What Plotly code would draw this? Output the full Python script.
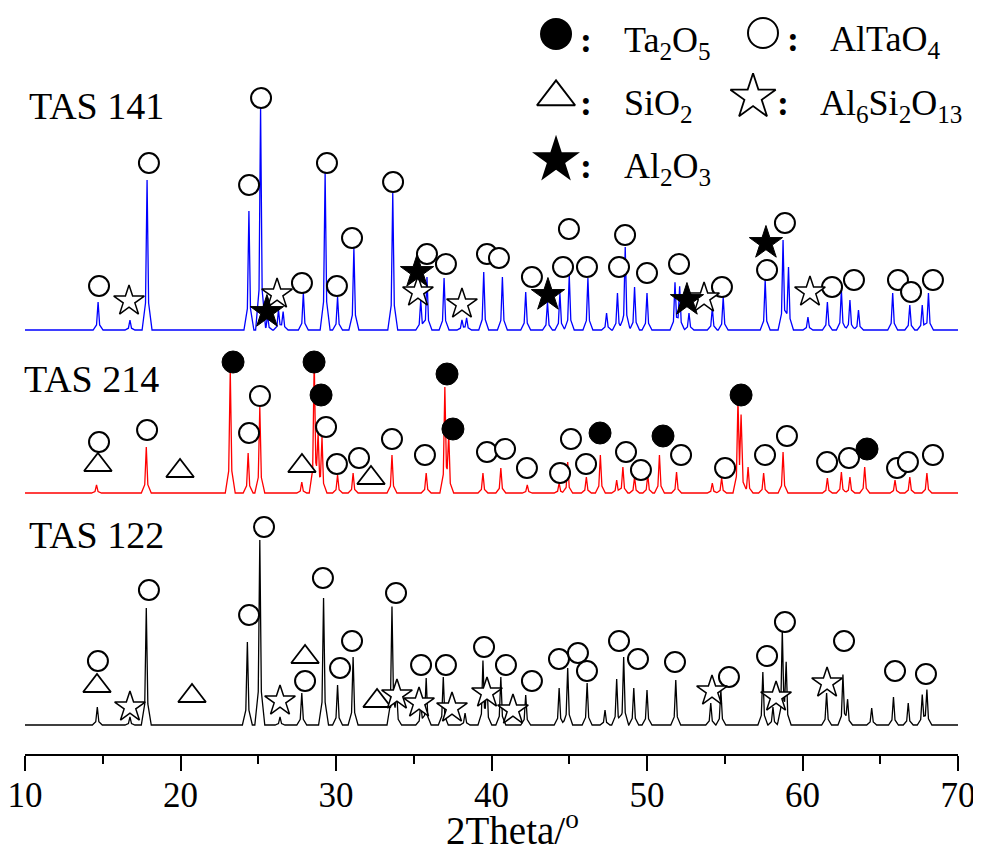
import plotly.graph_objects as go

# ---------------- data (2Theta in degrees, intensity in a.u.) ----------------
# TAS 141 (blue)
tas141_pos = [14.7, 16.75, 17.85, 24.4, 25.15, 25.6, 26.3, 26.6, 27.9, 29.3,
              30.1, 31.15, 33.65, 35.45, 35.85, 36.95, 38.1, 38.4, 39.5, 40.7,
              42.2, 43.6, 44.4, 45.0, 46.2, 47.4, 48.1, 48.6, 49.2, 50.0,
              51.8, 52.1, 52.7, 54.2, 54.9, 57.6, 58.75, 59.1, 60.35, 61.6,
              62.5, 63.05, 63.6, 65.8, 66.9, 67.7, 68.1]
tas141_int = [28, 10, 150, 119, 223, 15, 20, 18, 37, 157,
              33, 82, 137, 30, 53, 52, 10, 12, 58, 53,
              38, 28, 37, 55, 52, 17, 37, 83, 43, 37,
              47, 43, 17, 22, 33, 50, 90, 63, 13, 28,
              40, 30, 20, 37, 25, 25, 37]
tas141_offset = 425

# TAS 214 (red)
tas214_pos = [14.6, 17.8, 23.2, 24.35, 25.1, 27.8, 28.6, 28.85, 29.1, 30.1,
              31.1, 33.6, 35.8, 37.0, 37.25, 39.45, 40.6, 42.3, 44.35, 44.9,
              46.1, 47.0, 48.05, 48.45, 49.2, 50.05, 50.8, 51.9, 54.2, 54.8,
              55.85, 56.05, 56.5, 57.5, 58.75, 61.6, 62.5, 63.05, 64.0, 65.95,
              66.9, 68.0]
tas214_int = [8, 46, 123, 40, 86, 11, 130, 50, 53, 18,
              20, 38, 20, 103, 53, 20, 25, 8, 10, 31,
              16, 38, 13, 26, 16, 18, 38, 21, 10, 15,
              86, 70, 26, 20, 41, 15, 21, 16, 26, 13,
              16, 20]
tas214_offset = 262

# TAS 122 (black)
tas122_pos = [14.65, 16.75, 17.8, 24.3, 25.1, 26.4, 27.8, 29.2, 30.1, 31.1,
              33.6, 33.9, 35.45, 35.8, 36.9, 38.3, 39.45, 39.7, 40.6, 42.2,
              44.35, 44.9, 46.15, 47.3, 48.05, 48.5, 49.15, 50.0, 51.85, 54.1,
              54.75, 57.45, 58.1, 58.7, 58.95, 61.55, 62.6, 62.9, 64.45, 65.85,
              66.8, 67.7, 68.0]
tas122_int = [18, 8, 117, 83, 185, 8, 32, 127, 40, 68,
              118, 32, 22, 47, 48, 12, 62, 43, 48, 30,
              37, 57, 42, 15, 46, 68, 37, 35, 45, 22,
              35, 53, 18, 92, 58, 32, 50, 25, 17, 28,
              22, 30, 35]
tas122_offset = 30

# phase identification marks (2Theta, level)
m141_altao4_x = [14.76, 17.97, 24.41, 25.18, 27.81, 29.42, 30.06, 31.03, 33.67, 35.85,
                 37.07, 39.71, 40.48, 42.60, 44.60, 44.98, 46.14, 48.20, 48.59, 50.0,
                 52.06, 54.82, 57.72, 58.87, 61.90, 63.31, 66.14, 66.98, 68.39]
m141_altao4_y = [469, 592, 570, 657, 472, 592, 469, 517, 573, 501,
                 491, 501, 497, 478, 488, 526, 488, 488, 520, 482,
                 491, 468, 485, 532, 468, 475, 475, 463, 475]
m141_mullite_x = [16.69, 26.21, 35.27, 38.10, 53.67, 60.48]
m141_mullite_y = [454, 461, 463, 451, 457, 463]
m141_al2o3_x = [25.56, 35.21, 43.63, 52.57, 57.65]
m141_al2o3_y = [443, 483, 460, 455, 512]

m214_ta2o5_x = [23.38, 28.59, 29.04, 37.14, 37.52, 46.98, 51.03, 56.05, 64.15]
m214_ta2o5_y = [393, 393, 360, 381, 326, 322, 319, 360, 306]
m214_altao4_x = [14.76, 17.85, 24.41, 25.11, 29.36, 30.06, 31.48, 33.60, 35.72, 39.71,
                 40.87, 42.28, 44.41, 45.11, 46.08, 48.65, 49.61, 52.19, 55.02, 57.59,
                 59.00, 61.58, 62.99, 66.08, 66.78, 68.39]
m214_altao4_y = [313, 325, 322, 359, 328, 291, 297, 316, 300, 303,
                 306, 287, 282, 316, 291, 303, 285, 300, 287, 300,
                 319, 293, 297, 287, 293, 300]
m214_sio2_x = [14.69, 19.97, 27.81, 32.25]
m214_sio2_y = [290, 284, 289, 277]

m122_altao4_x = [14.69, 17.97, 24.41, 25.37, 28.01, 29.16, 30.26, 31.03, 33.86, 35.47,
                 37.07, 39.52, 40.93, 42.60, 44.34, 45.56, 46.14, 48.20, 49.42, 51.80,
                 55.27, 57.72, 58.87, 62.67, 65.95, 67.94]
m122_altao4_y = [94, 165, 140, 228, 74, 177, 87, 114, 162, 90,
                 90, 108, 90, 74, 96, 102, 84, 114, 96, 93,
                 78, 99, 133, 114, 84, 81]
m122_sio2_x = [14.63, 20.74, 28.01, 32.64]
m122_sio2_y = [69, 59, 98, 54]
m122_mullite_x = [16.75, 26.40, 33.92, 35.34, 37.46, 39.71, 41.38, 54.18, 58.30, 61.58]
m122_mullite_y = [48, 54, 60, 52, 47, 62, 45, 64, 58, 72]

x_ticks = [10, 20, 30, 40, 50, 60, 70]

# ---------------- helpers ----------------
FONT = "Liberation Serif"


def pattern(pos, inten, offset):
    """Piecewise-linear rendering of the read peak list on a flat baseline."""
    shape = [(-0.32, 0.0), (-0.10, 0.18), (0.0, 1.0), (0.10, 0.18), (0.32, 0.0)]
    xs = {10.0, 70.0}
    for p in pos:
        for dx, _ in shape:
            xs.add(round(p + dx, 4))
    xs = sorted(xs)

    def prof(x, p, h):
        d = x - p
        for (x0, f0), (x1, f1) in zip(shape[:-1], shape[1:]):
            if x0 <= d <= x1:
                return h * (f0 + (f1 - f0) * (d - x0) / (x1 - x0))
        return 0.0

    ys = [offset + sum(prof(x, p, h) for p, h in zip(pos, inten)) for x in xs]
    return xs, ys


fig = go.Figure()

for pos, inten, off, col in [(tas141_pos, tas141_int, tas141_offset, "#0000ff"),
                             (tas214_pos, tas214_int, tas214_offset, "#ff0000"),
                             (tas122_pos, tas122_int, tas122_offset, "#000000")]:
    xs, ys = pattern(pos, inten, off)
    fig.add_trace(go.Scatter(x=xs, y=ys, mode="lines",
                             line=dict(color=col, width=1.3),
                             showlegend=False, hoverinfo="skip"))

STYLE = {
    "altao4": dict(symbol="circle", size=20, color="white", line=dict(color="black", width=2)),
    "ta2o5": dict(symbol="circle", size=22, color="black", line=dict(color="black", width=1)),
    "sio2": dict(symbol="triangle-up", size=24, color="white", line=dict(color="black", width=1.8)),
    "mullite": dict(symbol="star", size=23, color="white", line=dict(color="black", width=1.5)),
    "al2o3": dict(symbol="star", size=25, color="black", line=dict(color="black", width=1)),
}

for xs, ys, kind in [
    (m141_altao4_x, m141_altao4_y, "altao4"),
    (m141_mullite_x, m141_mullite_y, "mullite"),
    (m141_al2o3_x, m141_al2o3_y, "al2o3"),
    (m214_altao4_x, m214_altao4_y, "altao4"),
    (m214_ta2o5_x, m214_ta2o5_y, "ta2o5"),
    (m214_sio2_x, m214_sio2_y, "sio2"),
    (m122_altao4_x, m122_altao4_y, "altao4"),
    (m122_sio2_x, m122_sio2_y, "sio2"),
    (m122_mullite_x, m122_mullite_y, "mullite"),
]:
    fig.add_trace(go.Scatter(x=xs, y=ys, mode="markers", marker=STYLE[kind],
                             showlegend=False, hoverinfo="skip", cliponaxis=False))

# ---------------- key (top right) ----------------
key = [
    (44.15, 721, dict(symbol="circle", size=32, color="black"), "Ta<sub>2</sub>O<sub>5</sub>", 46.08, 48.39),
    (57.46, 722, dict(symbol="circle", size=30, color="white", line=dict(color="black", width=2)),
     "AlTaO<sub>4</sub>", 59.39, 61.64),
    (44.15, 658, dict(symbol="triangle-up", size=33, color="white", line=dict(color="black", width=2)),
     "SiO<sub>2</sub>", 46.08, 48.39),
    (56.82, 658, dict(symbol="star", size=34, color="white", line=dict(color="black", width=1.8)),
     "Al<sub>6</sub>Si<sub>2</sub>O<sub>13</sub>", 58.75, 61.0),
    (44.15, 595, dict(symbol="star", size=36, color="black"), "Al<sub>2</sub>O<sub>3</sub>", 46.08, 48.39),
]
annotations = []
for mx, my, mstyle, label, cx, tx in key:
    fig.add_trace(go.Scatter(x=[mx], y=[my], mode="markers", marker=mstyle,
                             showlegend=False, hoverinfo="skip", cliponaxis=False))
    annotations.append(dict(x=cx, y=my - 6, xref="x", yref="y", text="<b>:</b>", showarrow=False,
                            xanchor="center", yanchor="middle",
                            font=dict(family=FONT, size=36, color="black")))
    annotations.append(dict(x=tx, y=my - 8, xref="x", yref="y", text=label, showarrow=False,
                            xanchor="left", yanchor="middle",
                            font=dict(family=FONT, size=36, color="black")))

for txt, xp, yv in [("TAS 141", 0.002, 649), ("TAS 214", -0.003, 376), ("TAS 122", 0.002, 220)]:
    annotations.append(dict(x=xp, y=yv, xref="paper", yref="y", text=txt, showarrow=False,
                            xanchor="left", yanchor="middle",
                            font=dict(family=FONT, size=38, color="black")))

# x-axis title
annotations.append(dict(x=0.522, y=-0.099, xref="paper", yref="paper", text="2Theta/<sup>o</sup>",
                        showarrow=False, xanchor="center", yanchor="middle",
                        font=dict(family=FONT, size=39, color="black")))

# the page body adds an 8 px offset; margins are chosen so the plot area lands where the reference has it
fig.update_layout(
    width=981, height=854,
    margin=dict(l=17, r=31, t=0, b=108, autoexpand=False),
    paper_bgcolor="white", plot_bgcolor="white",
    annotations=annotations,
    xaxis=dict(range=[10, 70], tickvals=x_ticks, ticktext=[str(v) for v in x_ticks],
               ticks="outside", ticklen=15, tickwidth=2, tickcolor="black",
               showline=True, linewidth=2, linecolor="black",
               showgrid=False, zeroline=False, automargin=False,
               ticklabeloverflow="allow", ticklabelstandoff=-6,
               tickfont=dict(family=FONT, size=35, color="black"),
               minor=dict(dtick=5, tick0=10, ticks="outside", ticklen=8, tickwidth=2,
                          tickcolor="black", showgrid=False)),
    yaxis=dict(range=[1, 747], visible=False, fixedrange=True, automargin=False),
)

fig.write_html("out.html")
